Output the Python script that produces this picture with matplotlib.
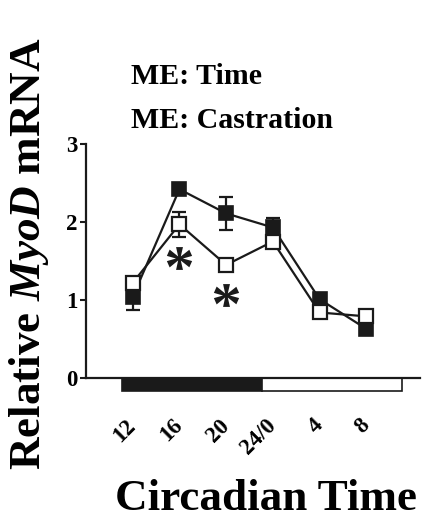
import matplotlib
matplotlib.use("Agg")
import matplotlib.pyplot as plt
from matplotlib.patches import Rectangle

plt.rcParams["font.family"] = ["Liberation Serif", "DejaVu Serif"]
plt.rcParams["font.weight"] = "bold"
plt.rcParams["mathtext.fontset"] = "custom"
plt.rcParams["mathtext.rm"] = "Liberation Serif:bold"
plt.rcParams["mathtext.it"] = "Liberation Serif:bold:italic"
plt.rcParams["mathtext.bf"] = "Liberation Serif:bold"

# Circadian time (hours, continuous across midnight)
ct_hours = [12, 16, 20, 24, 28, 32]
ct_labels = ["12", "16", "20", "24/0", "4", "8"]

# Relative MyoD mRNA, mean and SEM
intact_mean = [1.04, 2.42, 2.11, 1.93, 1.01, 0.63]
intact_sem = [0.17, 0.06, 0.21, 0.12, 0.04, 0.04]
castrated_mean = [1.22, 1.97, 1.45, 1.75, 0.84, 0.79]
castrated_sem = [0.06, 0.16, 0.04, 0.06, 0.04, 0.04]

# significant differences between groups
sig_hours = [16, 20]
sig_y = [1.54, 1.06]

# dark / light phases of the cycle
dark_phase = (11.1, 23.1)
light_phase = (23.1, 35.1)

INK = "#1a1a1a"

fig = plt.figure(figsize=(4.35, 5.19), dpi=100)
ax = fig.add_axes([86 / 435, 1 - 378 / 519, (420 - 86) / 435, (378 - 144) / 519])

# error bars sit beneath their own markers
ax.errorbar(ct_hours, intact_mean, yerr=intact_sem, fmt="none", ecolor=INK,
            capsize=5, capthick=1.6, elinewidth=1.6, zorder=2)
ax.plot(ct_hours, intact_mean, color=INK, lw=1.6, marker="s", ms=10,
        mfc=INK, mec=INK, mew=1.2, zorder=3)
ax.errorbar(ct_hours, castrated_mean, yerr=castrated_sem, fmt="none", ecolor=INK,
            capsize=5, capthick=1.6, elinewidth=1.6, zorder=4)
ax.plot(ct_hours, castrated_mean, color=INK, lw=1.6, marker="s", ms=10,
        mfc="white", mec=INK, mew=1.6, zorder=5)

ax.scatter(sig_hours, sig_y, marker="$*$", s=330, color=INK, lw=0, zorder=6)

# light/dark bar under the time axis
ax.add_patch(Rectangle((dark_phase[0], -0.165), dark_phase[1] - dark_phase[0], 0.16,
                       facecolor=INK, edgecolor=INK, lw=1.2, clip_on=False))
ax.add_patch(Rectangle((light_phase[0], -0.165), light_phase[1] - light_phase[0], 0.16,
                       facecolor="white", edgecolor=INK, lw=1.2, clip_on=False))

ax.set_xlim(8, 36.6)
ax.set_ylim(0, 3)
ax.set_yticks([0, 1, 2, 3])
ax.set_yticklabels(["0", "1", "2", "3"], fontsize=16.5, fontweight="bold")
ax.set_xticks(ct_hours)
ax.set_xticklabels(ct_labels, fontsize=16.5, fontweight="bold", rotation=45,
                   ha="right", va="center", rotation_mode="anchor")
ax.tick_params(axis="x", length=0, pad=32)
ax.tick_params(axis="y", length=4, width=1.5, pad=2, color=INK)
for side in ("top", "right"):
    ax.spines[side].set_visible(False)
for side in ("left", "bottom"):
    ax.spines[side].set_linewidth(1.6)
    ax.spines[side].set_color(INK)

fig.text(131 / 435, 1 - 84.3 / 519, "ME: Time", fontsize=21.5, fontweight="bold",
         ha="left", va="baseline")
fig.text(131 / 435, 1 - 128.3 / 519, "ME: Castration", fontsize=21.5, fontweight="bold",
         ha="left", va="baseline")
fig.text(266 / 435, 1 - 510 / 519, "Circadian Time", fontsize=32.5, fontweight="bold",
         ha="center", va="baseline")
fig.text(29 / 435, 1 - 254 / 519, r"Relative $\mathit{MyoD}$ mRNA", fontsize=32.5,
         fontweight="bold", rotation=90, ha="center", va="center")

fig.savefig("out.png", dpi=100)
